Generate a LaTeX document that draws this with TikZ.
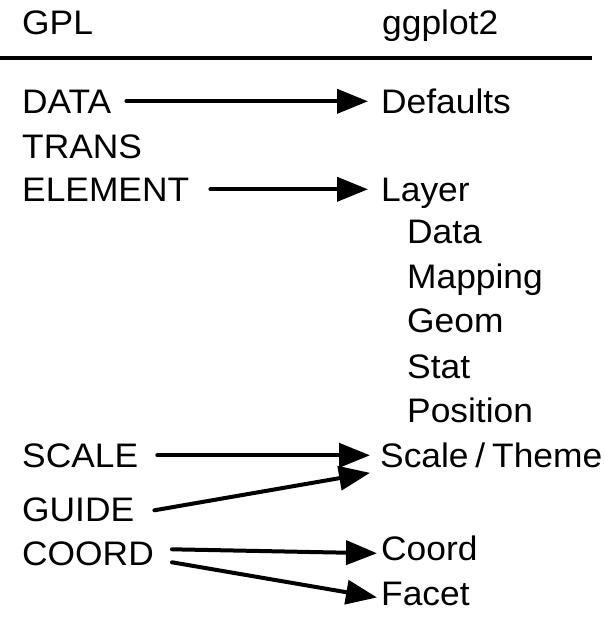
\documentclass[tikz,border=0pt]{standalone}
\usepackage{fontspec}
\setmainfont{Liberation Sans}[FakeStretch=1.04,WordSpace=0.7]
\usetikzlibrary{arrows.meta}
\begin{document}
\begin{tikzpicture}[x=1pt,y=-1pt,
  lbl/.style={anchor=base west,inner sep=0pt,font=\fontsize{34}{42}\selectfont},
  arr/.style={line width=4pt,line cap=round,-{Triangle[length=31pt,width=24pt]}},
  rulel/.style={line width=4pt}]
\useasboundingbox (0,0) rectangle (605,619);
% header
\node[lbl] (gpl) at (22,34) {GPL};
\node[lbl] (ggp) at (382,34) {ggplot2};
\coordinate (rl) at (0,58);
\coordinate (rr) at (592,58);
\draw[rulel] (rl) -- (rr);
% left column
\node[lbl] (data) at (22,113) {DATA};
\node[lbl] (trans) at (22,158) {TRANS};
\node[lbl] (element) at (22,201) {ELEMENT};
\node[lbl] (scale) at (22,467) {SCALE};
\node[lbl] (guide) at (22,521) {GUIDE};
\node[lbl] (coord) at (22,565) {COORD};
% right column
\node[lbl] (defaults) at (381,113) {Defaults};
\node[lbl] (layer) at (381,201) {Layer};
\node[lbl] (ldata) at (407,243) {Data};
\node[lbl] (mapping) at (407,288) {Mapping};
\node[lbl] (geom) at (407,332) {Geom};
\node[lbl] (stat) at (407,378) {Stat};
\node[lbl] (position) at (407,422) {Position};
\node[lbl] (scaletheme) at (380,467) {Scale / Theme};
\node[lbl] (gcoord) at (381,560) {Coord};
\node[lbl] (facet) at (381,605) {Facet};
% arrows
\draw[arr] ([xshift=15pt]data.east) -- ([xshift=-13pt]data.east -| defaults.west);
\draw[arr] ([xshift=21pt]element.east) -- ([xshift=-13pt]element.east -| layer.west);
\draw[arr] ([xshift=19pt]scale.east) -- ([xshift=-10pt]scale.east -| scaletheme.west);
\draw[arr] ([xshift=20pt,yshift=-1pt]guide.east) -- ([xshift=-10pt,yshift=-18pt]scaletheme.west);
\draw[arr] ([xshift=18pt,yshift=4pt]coord.east) -- ([xshift=-4pt]coord.east -| gcoord.west);
\draw[arr] ([xshift=18pt,yshift=-9pt]coord.east) -- ([xshift=-4pt,yshift=-4pt]facet.west);
\end{tikzpicture}
\end{document}
